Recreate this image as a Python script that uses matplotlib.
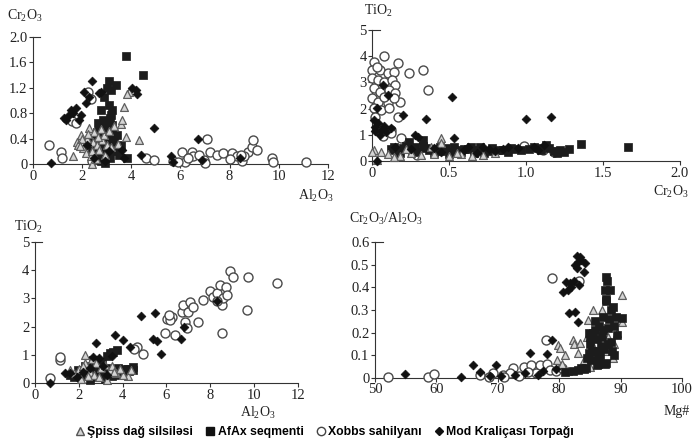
import matplotlib
matplotlib.use("Agg")
import matplotlib.pyplot as plt
from matplotlib.lines import Line2D

plt.rcParams['font.family'] = ['Liberation Serif', 'DejaVu Serif']
plt.rcParams['mathtext.default'] = 'regular'

series_names = ["Şpiss dağ silsiləsi", "AfAx seqmenti", "Xobbs sahilyanı", "Mod Kraliçası Torpağı"]

# ---- Panel 1: Cr2O3 vs Al2O3 ----
p1_spiss_x = [1.61,1.95,1.81,1.85,2.28,2.05,2.15,2.39,2.45,2.2,2.5,2.6,2.7,2.82,2.9,3.0,3.16,3.3,2.35,2.55,2.75,2.25,3.6,3.63,3.7,3.77,4.31,3.9,3.82,2.0,1.9,2.4,2.65,3.1,3.45,2.95]
p1_spiss_y = [0.12,0.46,0.35,0.30,0.56,0.25,0.17,0.00,0.35,0.40,0.50,0.30,0.22,0.38,0.45,0.30,0.27,0.60,0.12,0.08,0.55,0.48,0.63,0.69,0.90,0.43,0.38,1.14,1.10,0.40,0.28,0.20,0.42,0.52,0.32,0.15]
p1_afax_x = [3.8,4.47,3.09,3.36,3.16,2.76,3.09,3.16,2.9,3.0,2.85,3.2,2.7,2.95,3.1,2.6,2.8,3.05,2.5,2.7,2.9,3.25,2.4,2.6,2.8,3.0,2.55,3.35,3.5,3.84,2.76,3.4,2.35,2.65,3.15,2.45,3.2,2.95,3.6,
             2.75,2.9,3.05,3.2,2.65,2.85,3.0,2.55,2.7,3.1,2.95,3.3,2.5,2.8,3.15]
p1_afax_y = [1.70,1.40,1.30,1.24,1.17,0.85,0.93,0.77,1.05,1.20,0.70,0.62,0.60,0.55,0.48,0.50,0.42,0.38,0.32,0.30,0.25,0.35,0.22,0.15,0.12,0.18,0.08,0.20,0.14,0.09,0.05,0.45,0.40,0.65,0.10,0.28,0.85,0.02,0.30,
             0.52,0.58,0.66,0.55,0.35,0.33,0.28,0.45,0.20,0.22,0.12,0.42,0.18,0.08,0.72]
p1_xobbs_x = [0.66,1.13,1.2,2.22,2.35,1.6,1.75,2.4,4.58,4.92,5.7,6.07,6.2,6.47,6.53,6.95,7.08,7.2,7.49,7.75,8.1,8.3,8.5,8.76,8.9,8.97,9.1,8.6,9.72,9.78,11.13,6.75,7.0,8.0,6.3,5.9,8.45]
p1_xobbs_y = [0.30,0.19,0.09,1.14,1.03,0.68,0.65,0.05,0.09,0.06,0.05,0.19,0.04,0.19,0.12,0.06,0.39,0.19,0.14,0.17,0.17,0.12,0.05,0.19,0.27,0.38,0.22,0.12,0.09,0.04,0.04,0.15,0.02,0.08,0.10,0.03,0.15]
p1_mod_x = [0.73,1.27,1.54,1.74,1.95,1.88,1.45,2.08,2.28,2.15,2.42,2.76,4.04,4.24,4.18,4.92,3.63,3.7,4.38,5.6,5.7,6.73,6.88,8.43,2.95,2.69,3.1,2.5,2.2,1.35,1.62]
p1_mod_y = [0.01,0.72,0.85,0.88,0.77,0.69,0.78,1.14,1.06,0.96,1.30,1.14,1.19,1.11,1.16,0.56,0.22,0.09,0.14,0.12,0.04,0.39,0.06,0.09,0.05,1.12,0.20,0.10,0.30,0.70,0.80]

# ---- Panel 2: TiO2 vs Cr2O3 ----
p2_spiss_x = [0.01,0.06,0.45,0.0,0.45,0.10,0.18,0.25,0.32,0.40,0.50,0.58,0.65,0.72,0.80,0.38,0.22,0.14,0.55,0.03]
p2_spiss_y = [0.42,0.36,0.87,0.36,0.70,0.25,0.20,0.30,0.22,0.28,0.20,0.25,0.18,0.22,0.30,0.55,0.45,0.15,0.32,0.05]
p2_afax_x = [1.36,1.66,0.24,0.33,0.12,0.15,0.20,0.28,0.35,0.42,0.48,0.55,0.62,0.70,0.78,0.85,0.92,1.05,1.15,1.22,1.28,0.18,0.30,0.40,0.50,0.58,0.66,0.75,0.88,1.10,1.20,1.25,
             0.26,0.37,0.45,0.52,0.60,0.68,0.73,0.82,0.97,1.08,1.18,0.14,0.22,0.33,0.44,0.53,0.64,0.90,1.02,1.13]
p2_afax_y = [0.65,0.55,0.74,0.80,0.45,0.40,0.50,0.55,0.48,0.45,0.50,0.42,0.45,0.52,0.48,0.40,0.45,0.55,0.50,0.42,0.45,0.30,0.35,0.30,0.28,0.35,0.30,0.38,0.35,0.40,0.30,0.35,
             0.40,0.40,0.38,0.36,0.44,0.40,0.32,0.42,0.40,0.48,0.38,0.55,0.58,0.58,0.55,0.52,0.55,0.50,0.45,0.60]
p2_xobbs_x = [0.08,0.01,0.17,0.24,0.33,0.36,0.18,0.17,0.0,0.05,0.10,0.14,0.0,0.04,0.08,0.13,0.15,0.01,0.05,0.11,0.15,0.0,0.04,0.10,0.14,0.01,0.06,0.11,0.02,0.06,0.05,0.12,0.19,0.29,0.99,1.11,1.18,0.03,0.08,0.07,0.12]
p2_xobbs_y = [4.02,3.79,3.75,3.35,3.47,2.71,2.26,1.69,3.47,3.47,3.35,3.41,3.16,3.09,3.03,3.09,2.90,2.80,2.65,2.71,2.58,2.39,2.26,2.20,2.39,2.01,1.95,2.01,1.69,1.06,1.25,1.18,0.87,0.23,0.58,0.42,0.36,3.60,2.45,0.95,1.05]
p2_mod_x = [0.52,0.35,0.10,0.07,0.03,0.20,1.00,1.16,0.03,0.28,0.53,0.01,0.02,0.04,0.06,0.09,0.12,0.05,0.15,0.25,0.40,0.60,0.72,0.85,0.95,1.05,1.12,0.80,0.45,0.68,
            0.30,0.62,0.76,0.88,1.08,0.02,0.08]
p2_mod_y = [2.45,1.60,2.52,2.90,2.01,1.76,1.59,1.67,0.00,0.99,0.87,1.56,1.30,1.45,1.20,1.10,1.25,1.00,0.55,0.45,0.50,0.40,0.52,0.45,0.48,0.55,0.60,0.38,0.35,0.30,
            0.90,0.55,0.45,0.55,0.42,1.15,1.35]

# ---- Panel 3: TiO2 vs Al2O3 ----
p3_spiss_x = [2.28,4.26,1.8,2.0,2.3,2.5,2.7,3.0,3.2,3.4,3.7,4.0,2.1,2.6,2.9,3.5,1.6,2.4,3.3,3.9,4.4,2.2,2.8,3.6]
p3_spiss_y = [0.99,0.25,0.35,0.50,0.70,0.40,0.30,0.55,0.65,0.45,0.35,0.30,0.15,0.85,0.20,0.60,0.45,0.25,0.12,0.50,0.45,0.60,0.70,0.40]
p3_afax_x = [3.42,3.73,3.55,3.3,4.48,4.25,4.0,2.97,2.6,2.8,3.1,2.4,2.2,2.0,1.8,1.6,3.6,3.9,4.3,2.7,3.2,2.5,2.9,3.5,1.95,2.3,3.05,3.8,4.1,2.65,
             2.85,3.25,3.45,2.45,2.1,3.7,4.45]
p3_afax_y = [1.05,1.17,1.10,0.95,0.56,0.49,0.45,0.64,0.46,0.55,0.40,0.35,0.25,0.30,0.20,0.28,0.50,0.38,0.42,0.20,0.15,0.10,0.30,0.25,0.45,0.60,0.75,0.55,0.48,0.80,
             0.40,0.52,0.35,0.50,0.40,0.30,0.45]
p3_xobbs_x = [0.68,1.14,1.15,4.64,4.94,5.93,6.01,6.24,6.39,6.69,6.77,6.84,6.92,7.0,7.07,7.45,7.68,7.98,8.14,8.29,8.44,8.52,8.52,8.59,8.71,8.9,9.05,9.66,9.73,11.03,8.74,8.3,7.22,6.16,4.5,6.1]
p3_xobbs_y = [0.17,0.82,0.93,1.29,1.03,1.78,2.26,2.33,1.70,2.53,2.77,2.17,1.94,2.53,2.88,2.17,2.94,3.27,3.04,3.18,3.48,2.77,1.78,3.00,3.39,3.98,3.75,2.59,3.77,3.54,3.12,2.90,2.70,2.23,1.20,2.40]
p3_mod_x = [0.68,2.77,3.65,4.03,4.33,4.82,5.47,5.4,5.55,5.75,6.81,6.65,8.32,2.66,1.37,1.6,2.9,3.1,2.5,1.9,3.3,3.5,2.2]
p3_mod_y = [0.00,1.41,1.70,1.52,1.29,2.39,2.49,1.55,1.50,1.03,1.98,1.56,2.92,0.93,0.34,0.35,0.90,0.60,0.55,0.20,0.30,0.95,0.40]

# ---- Panel 4: Cr2O3/Al2O3 vs Mg# ----
p4_spiss_x = [90.2,85.6,84.7,84.5,82.3,82.4,79.9,80.1,79.6,90.2,88.8,87.6,83.4,85.6,81.0,80.5,83.0,84.0,86.5,88.0,89.5,85.0,87.0,81.5,86.0,89.0]
p4_spiss_y = [0.366,0.300,0.256,0.182,0.168,0.150,0.146,0.131,0.079,0.248,0.087,0.120,0.153,0.140,0.100,0.060,0.110,0.080,0.220,0.180,0.200,0.050,0.300,0.030,0.090,0.150]
p4_afax_x = [87.7,87.8,87.5,88.3,87.7,88.8,87.2,89.3,90.2,86.1,87.7,80.9,82.2,83.6,84.4,85.0,85.5,86.0,86.5,87.0,88.0,88.5,89.0,85.2,86.8,84.8,88.2,89.5,86.3,87.4,85.8,83.0,84.0,
             85.3,86.2,87.1,88.6,84.6,85.9,86.7,87.9,88.9,85.1,86.4,87.3,84.9,88.4,87.6]
p4_afax_y = [0.447,0.430,0.388,0.390,0.350,0.315,0.270,0.270,0.263,0.057,0.064,0.028,0.030,0.043,0.046,0.150,0.200,0.120,0.230,0.180,0.220,0.160,0.100,0.080,0.140,0.110,0.260,0.190,0.090,0.060,0.250,0.035,0.040,
             0.120,0.170,0.210,0.120,0.090,0.210,0.100,0.150,0.230,0.180,0.060,0.130,0.200,0.300,0.340]
p4_xobbs_x = [52.2,58.7,59.7,78.8,77.9,83.3,72.5,74.2,75.5,76.9,78.0,69.3,70.9,72.0,76.3,78.5,67.1,68.5,73.5,75.0,79.5,80.5,71.0]
p4_xobbs_y = [0.003,0.006,0.016,0.44,0.168,0.43,0.043,0.047,0.057,0.057,0.062,0.020,0.013,0.020,0.020,0.035,0.013,0.005,0.010,0.025,0.030,0.045,0.005]
p4_mod_x = [54.9,64.1,65.9,67.1,69.8,68.7,75.2,78.0,78.8,77.4,80.6,82.9,83.4,83.1,83.6,84.2,82.6,82.9,84.0,81.2,81.8,82.4,81.5,82.0,83.3,81.6,82.6,83.0,70.5,72.8,74.5,76.5,79.5]
p4_mod_y = [0.016,0.006,0.057,0.028,0.057,0.008,0.109,0.106,0.168,0.030,0.378,0.540,0.535,0.513,0.520,0.506,0.498,0.484,0.466,0.425,0.418,0.430,0.388,0.400,0.410,0.285,0.292,0.248,0.010,0.015,0.020,0.012,0.040]

# ---- styles ----
STY = {
    'spiss': dict(marker='^', s=32, facecolors='#d4d4d4', edgecolors='#5e5e5e', linewidths=0.9),
    'afax': dict(marker='s', s=28, facecolors='#1c1c1c', edgecolors='#1c1c1c', linewidths=0.5),
    'xobbs': dict(marker='o', s=42, facecolors='white', edgecolors='#4a4a4a', linewidths=1.0),
    'mod': dict(marker='D', s=20, facecolors='#111111', edgecolors='#111111', linewidths=0.5),
}

fig = plt.figure(figsize=(6.93, 4.41), dpi=100)

def setup(ax, xlim, ylim, xticks, yticks, xtl, ytl):
    ax.set_xlim(*xlim)
    ax.set_ylim(*ylim)
    for s in ['top', 'right']:
        ax.spines[s].set_visible(False)
    for s in ['left', 'bottom']:
        ax.spines[s].set_linewidth(0.8)
        ax.spines[s].set_color('#333333')
    ax.set_xticks(xticks)
    ax.set_yticks(yticks)
    ax.set_xticklabels(xtl)
    ax.set_yticklabels(ytl)
    ax.tick_params(direction='out', length=3, width=0.8, colors='#333333',
                   labelsize=10.5, labelcolor='#222222', pad=1)
    ax.plot([0, 0.025], [1, 1], transform=ax.transAxes, color='#333333', lw=0.8, clip_on=False)
    ax.patch.set_alpha(0)

def draw(ax, data):
    for key, (xs, ys) in data:
        ax.scatter(xs, ys, clip_on=False, zorder=3, **STY[key])

ax1 = fig.add_axes([0.0476, 0.628, 0.4254, 0.288])
setup(ax1, (0, 12), (0, 2.0), [0, 2, 4, 6, 8, 10, 12], [0, 0.4, 0.8, 1.2, 1.6, 2.0],
      ['0', '2', '4', '6', '8', '10', '12'], ['0', '0.4', '0.8', '1.2', '1.6', '2.0'])
draw(ax1, [('xobbs', (p1_xobbs_x, p1_xobbs_y)), ('afax', (p1_afax_x, p1_afax_y)),
           ('spiss', (p1_spiss_x, p1_spiss_y)), ('mod', (p1_mod_x, p1_mod_y))])

ax2 = fig.add_axes([0.537, 0.635, 0.444, 0.297])
setup(ax2, (0, 2.0), (0, 5), [0, 0.5, 1.0, 1.5, 2.0], [0, 1, 2, 3, 4, 5],
      ['0', '0.5', '1.0', '1.5', '2.0'], ['0', '1', '2', '3', '4', '5'])
draw(ax2, [('xobbs', (p2_xobbs_x, p2_xobbs_y)), ('afax', (p2_afax_x, p2_afax_y)),
           ('spiss', (p2_spiss_x, p2_spiss_y)), ('mod', (p2_mod_x, p2_mod_y))])

ax3 = fig.add_axes([0.0505, 0.1315, 0.3795, 0.3195])
setup(ax3, (0, 12), (0, 5), [0, 2, 4, 6, 8, 10, 12], [0, 1, 2, 3, 4, 5],
      ['0', '2', '4', '6', '8', '10', '12'], ['0', '1', '2', '3', '4', '5'])
draw(ax3, [('xobbs', (p3_xobbs_x, p3_xobbs_y)), ('afax', (p3_afax_x, p3_afax_y)),
           ('spiss', (p3_spiss_x, p3_spiss_y)), ('mod', (p3_mod_x, p3_mod_y))])

ax4 = fig.add_axes([0.541, 0.143, 0.443, 0.308])
setup(ax4, (50, 100), (0, 0.6), [50, 60, 70, 80, 90, 100], [0, 0.1, 0.2, 0.3, 0.4, 0.5, 0.6],
      ['50', '60', '70', '80', '90', '100'], ['0', '0.1', '0.2', '0.3', '0.4', '0.5', '0.6'])
draw(ax4, [('xobbs', (p4_xobbs_x, p4_xobbs_y)), ('spiss', (p4_spiss_x, p4_spiss_y)),
           ('afax', (p4_afax_x, p4_afax_y)), ('mod', (p4_mod_x, p4_mod_y))])

# axis labels placed like the original (above y-axis, below right end of x-axis)
lab = dict(fontsize=10, color='#222222')
fig.text(25/693, 1-16/441, r'Cr$_2$O$_3$', ha='center', va='center', **lab)
fig.text(316/693, 1-196/441, r'Al$_2$O$_3$', ha='center', va='center', **lab)
fig.text(378/693, 1-11/441, r'TiO$_2$', ha='center', va='center', **lab)
fig.text(671/693, 1-192/441, r'Cr$_2$O$_3$', ha='center', va='center', **lab)
fig.text(28/693, 1-227/441, r'TiO$_2$', ha='center', va='center', **lab)
fig.text(258/693, 1-413/441, r'Al$_2$O$_3$', ha='center', va='center', **lab)
fig.text(386/693, 1-219/441, r'Cr$_2$O$_3$/Al$_2$O$_3$', ha='center', va='center', **lab)
fig.text(677/693, 1-411/441, 'Mg#', ha='center', va='center', **lab)

handles = [
    Line2D([], [], linestyle='none', marker='^', markersize=5.5, markerfacecolor='#d4d4d4', markeredgecolor='#555555', markeredgewidth=1.0),
    Line2D([], [], linestyle='none', marker='s', markersize=5.5, markerfacecolor='#111111', markeredgecolor='#111111'),
    Line2D([], [], linestyle='none', marker='o', markersize=6, markerfacecolor='white', markeredgecolor='#444444', markeredgewidth=1.0),
    Line2D([], [], linestyle='none', marker='D', markersize=4.5, markerfacecolor='#111111', markeredgecolor='#111111'),
]
fig.legend(handles, series_names, loc='center', bbox_to_anchor=(0.468, 1-432/441), ncol=4,
           frameon=False, handlelength=0.8, handletextpad=0.2, columnspacing=1.0,
           borderaxespad=0, borderpad=0,
           prop={'family': ['Liberation Sans', 'DejaVu Sans'], 'weight': 'bold', 'size': 8.8})

fig.savefig('out.png', dpi=100)
